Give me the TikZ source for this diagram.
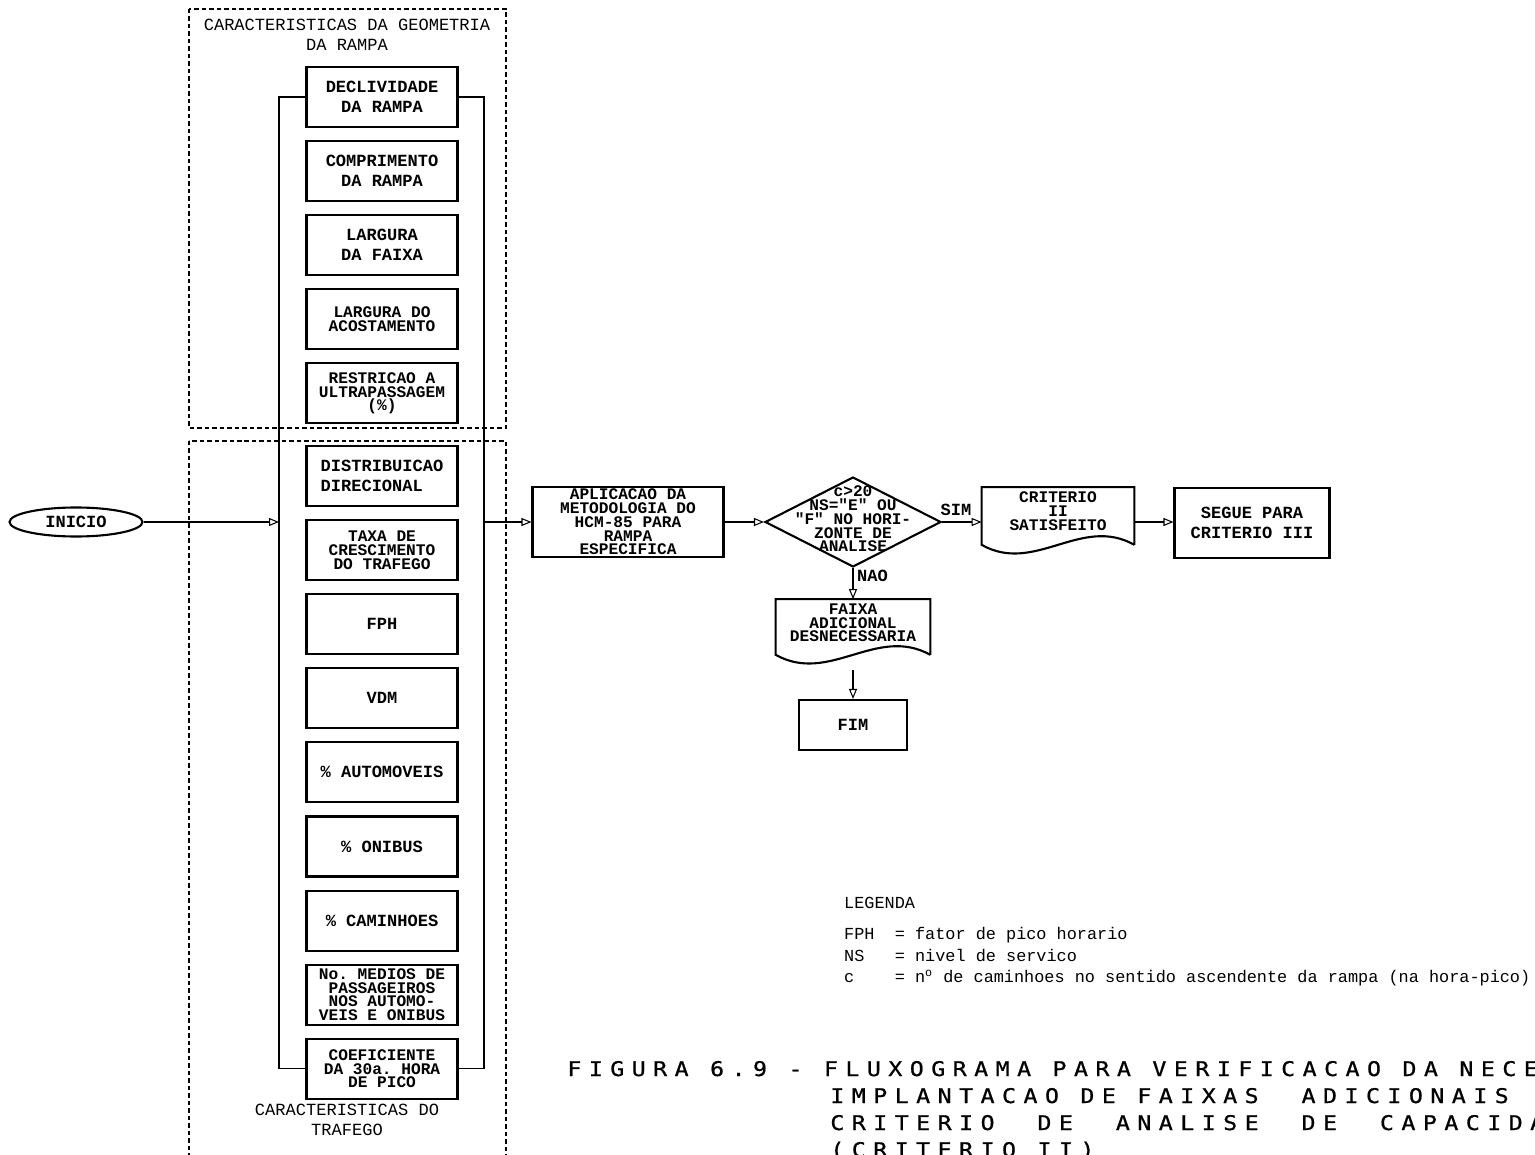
\documentclass[tikz,border=0pt]{standalone}
\usepackage{fontspec}
\setmonofont{Liberation Mono}
\newfontfamily\capfont[FakeStretch=1.15, FakeBold=0.8, LetterSpace=37]{DejaVu Sans Mono}
\usetikzlibrary{arrows.meta, positioning, shapes.geometric}

% fonts used in the boxes
\newcommand{\boxfont}{\ttfamily\bfseries\fontsize{9.7}{11.4}\selectfont}
\newcommand{\tightfont}{\ttfamily\bfseries\fontsize{9.2}{7.8}\selectfont\lineskiplimit=-20pt\lineskip=0pt}

\tikzset{
  inbox/.style={draw, line width=1.2pt, minimum width=3.02cm, minimum height=1.2cm, inner sep=1pt, align=center, font=\boxfont},
  inboxtight/.style={inbox, font=\tightfont},
  procbox/.style={draw, line width=1.2pt, inner sep=1pt, align=center},
  docbox/.style={inner sep=0pt},
  docline/.style={line width=1.2pt},
  decision/.style={diamond, draw, line width=1.2pt, aspect=1.96, minimum width=3.52cm, minimum height=1.8cm, inner sep=0pt},
  terminal/.style={ellipse, draw, line width=1.2pt, minimum width=2.66cm, minimum height=0.58cm, inner sep=0pt, font=\boxfont},
  flow/.style={-{Triangle[open, length=2mm, width=1.6mm]}, line width=0.6pt},
  groupframe/.style={dashed, dash pattern=on 0.09cm off 0.06cm, line width=0.6pt},
  grouptitle/.style={align=center, font=\ttfamily\fontsize{9.7}{11.4}\selectfont},
  legendtext/.style={anchor=west, font=\ttfamily\fontsize{9.6}{11.4}\selectfont},
  captext/.style={anchor=base west, inner sep=0pt, font=\capfont\fontsize{11.5}{13}\selectfont}
}

\begin{document}
\begin{tikzpicture}[x=0.02cm, y=-0.02cm, node distance=0.24cm]
\useasboundingbox (0,0) rectangle (1535,1155);
\fill[white] (0,0) rectangle (1535,1155);
\clip (0,0) rectangle (1535,1155);

% geometry of the grade
\draw[groupframe] (189,9) rectangle (506,428);
\node[grouptitle] (geotitle) at (347,35) {CARACTERISTICAS DA GEOMETRIA\\DA RAMPA};
\node[inbox] (g1) at (382,97) {DECLIVIDADE\\DA RAMPA};
\node[inbox, below=of g1] (g2) {COMPRIMENTO\\DA RAMPA};
\node[inbox, below=of g2] (g3) {LARGURA\\DA FAIXA};
\node[inboxtight, below=of g3] (g4) {LARGURA DO\\ACOSTAMENTO};
\node[inboxtight, below=of g4] (g5) {RESTRICAO A\\ULTRAPASSAGEM\\(\%)};

% traffic data
\draw[groupframe] (189,441) rectangle (506,1170);
\node[inbox, align=left] (t1) at (382,476) {DISTRIBUICAO\\DIRECIONAL};
\node[inboxtight, below=of t1] (t2) {TAXA DE\\CRESCIMENTO\\DO TRAFEGO};
\node[inbox, below=of t2] (t3) {FPH};
\node[inbox, below=of t3] (t4) {VDM};
\node[inbox, below=of t4] (t5) {\% AUTOMOVEIS};
\node[inbox, below=of t5] (t6) {\% ONIBUS};
\node[inbox, below=of t6] (t7) {\% CAMINHOES};
\node[inboxtight, below=of t7] (t8) {No. MEDIOS DE\\PASSAGEIROS\\NOS AUTOMO-\\VEIS E ONIBUS};
\node[inboxtight, below=of t8] (t9) {COEFICIENTE\\DA 30a. HORA\\DE PICO};
\node[grouptitle] (traftitle) at (347,1120) {CARACTERISTICAS DO\\TRAFEGO};

% bracket joining all input boxes
\coordinate (busL) at (279,522);
\coordinate (busR) at (484,522);
\draw[line width=0.6pt] (g1.west) -| (t9.west -| busL) -- (t9.west);
\draw[line width=0.6pt] (g1.east) -| (t9.east -| busR) -- (t9.east);

% main flow
\node[terminal] (start) at (76,522) {INICIO};
\node[procbox, font=\tightfont, minimum width=3.82cm, minimum height=1.38cm] (app) at (628,522)
  {APLICACAO DA\\METODOLOGIA DO\\HCM-85 PARA\\RAMPA\\ESPECIFICA};
\node[decision] (dec) at (853,522) {};
\node[align=center, font=\tightfont] (dectxt) at (853,519) {c>20\\NS="E" OU\\"F" NO HORI-\\ZONTE DE\\ANALISE};
\node[docbox, minimum width=3.04cm, minimum height=1.14cm] (crit) at (1058,516) {};
\node[align=center, font=\tightfont] (crittxt) at (1058,511) {CRITERIO\\II\\SATISFEITO};
\node[procbox, font=\boxfont, minimum width=3.1cm, minimum height=1.4cm] (segue) at (1252,523) {SEGUE PARA\\CRITERIO III};
\node[docbox, minimum width=3.08cm, minimum height=1.1cm] (faixa) at (853,627) {};
\node[align=center, font=\tightfont] (faixatxt) at (853,623) {FAIXA\\ADICIONAL\\DESNECESSARIA};
\node[procbox, font=\boxfont, minimum width=2.16cm, minimum height=1cm] (fim) at (853,725) {FIM};

% document outlines with wavy bottom
\draw[docline] (crit.south east) -- (crit.north east) -- (crit.north west) -- (crit.south west)
  .. controls +(53,30) and +(-53,-30) .. (crit.south east);
\draw[docline] (faixa.south east) -- (faixa.north east) -- (faixa.north west) -- (faixa.south west)
  .. controls +(54,30) and +(-54,-30) .. (faixa.south east);

\draw[flow] (start) -- (busL);
\draw[flow] (busR) -- (app);
\draw[flow] (app) -- (dec);
\draw[flow] (dec.east) -- node[above, pos=0.35, font=\boxfont] {SIM} (dec.east -| crit.west);
\draw[flow] (dec.east -| crit.east) -- (dec.east -| segue.west);
\draw[flow] (dec.south) -- node[right, pos=0.25, font=\boxfont, inner sep=2pt] {NAO} (faixa.north);
\draw[flow] ([yshift=-0.3cm]faixa.south) -- (fim.north);

% legend
\node[legendtext] (legtitle) at (838,903) {LEGENDA};
\node[legendtext] (leg1) at (838,935) {FPH\ \ = fator de pico horario};
\node[legendtext] (leg2) at (838,955) {NS\ \ \ = nivel de servico};
\node[legendtext] (leg3) at (838,978) {c\ \ \ \ = n\textsuperscript{o} de caminhoes no sentido ascendente da rampa (na hora-pico)};

% caption
\node[captext] (cap1) at (567,1076) {FIGURA 6.9 - FLUXOGRAMA PARA VERIFICACAO DA NECE};
\node[captext] (cap2) at (830,1103) {IMPLANTACAO DE FAIXAS\ \ ADICIONAIS};
\node[captext] (cap3) at (830,1130) {CRITERIO\ \ DE\ \ ANALISE\ \ DE\ \ CAPACIDA};
\node[captext] (cap4) at (830,1157) {(CRITERIO II)};
\end{tikzpicture}
\end{document}
